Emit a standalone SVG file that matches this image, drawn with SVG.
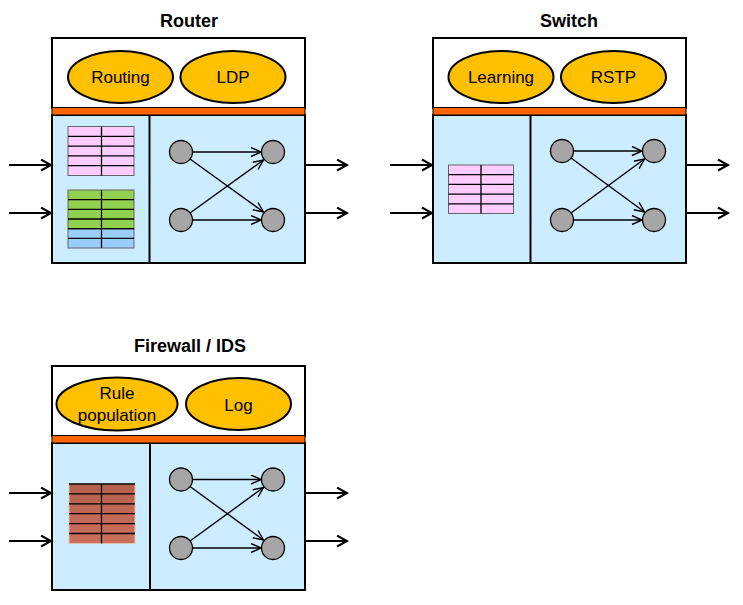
<svg xmlns="http://www.w3.org/2000/svg" width="743" height="605" viewBox="0 0 743 605">
<style>
.title{font-family:"Liberation Sans",Arial,sans-serif;font-weight:bold;font-size:18px;text-anchor:middle;fill:#000}
.lbl{font-family:"Liberation Sans",Arial,sans-serif;font-size:17px;text-anchor:middle;fill:#000}
.top{fill:#fff;stroke:#000;stroke-width:2}
.bar{fill:#FF6600;stroke:#000;stroke-width:1}
.low{fill:#CCECFF;stroke:#000;stroke-width:2}
.ell{fill:#FFC000;stroke:#000;stroke-width:2}
.dot{fill:#A6A6A6;stroke:#000;stroke-width:1.3}
.in{stroke:#000;stroke-width:1.4;fill:none;marker-end:url(#ah)}
.io{stroke:#000;stroke-width:2;fill:none;marker-end:url(#ah2)}
.grid{stroke:#000;stroke-width:1.3;fill:none}
.pink{fill:#FFCCFF}
.green{fill:#92D050}
.blue{fill:#99CCFF}
.tb{stroke:#666;stroke-width:1}
</style>
<defs>
<marker id="ah" markerUnits="userSpaceOnUse" markerWidth="14" markerHeight="12" refX="11" refY="5" orient="auto" viewBox="0 0 14 12">
<path d="M1,0.5 L11,5 L1,9.5" fill="none" stroke="#000" stroke-width="1.4"/>
</marker>
<marker id="ah2" markerUnits="userSpaceOnUse" markerWidth="14" markerHeight="14" refX="11" refY="6" orient="auto" viewBox="0 0 14 14">
<path d="M1,0.5 L11,6 L1,11.5" fill="none" stroke="#000" stroke-width="2"/>
</marker>
<linearGradient id="brick" x1="0" y1="0" x2="0" y2="1">
<stop offset="0" stop-color="#B3604D"/>
<stop offset="1" stop-color="#CA705D"/>
</linearGradient>
</defs>

<g id="connectors">
<!-- Router I/O -->
<line class="io" x1="9" y1="165" x2="51" y2="165"/>
<line class="io" x1="9" y1="213" x2="51" y2="213"/>
<line class="io" x1="306" y1="165" x2="347" y2="165"/>
<line class="io" x1="306" y1="213" x2="347" y2="213"/>
<!-- Switch I/O -->
<line class="io" x1="390" y1="165" x2="432" y2="165"/>
<line class="io" x1="390" y1="213" x2="432" y2="213"/>
<line class="io" x1="687" y1="165" x2="728" y2="165"/>
<line class="io" x1="687" y1="213" x2="728" y2="213"/>
<!-- Firewall I/O -->
<line class="io" x1="9" y1="493" x2="51" y2="493"/>
<line class="io" x1="9" y1="541" x2="51" y2="541"/>
<line class="io" x1="306" y1="493" x2="347" y2="493"/>
<line class="io" x1="306" y1="541" x2="347" y2="541"/>
</g>

<g id="router">
<text class="title" x="189" y="27">Router</text>
<rect class="top" x="52" y="38" width="253" height="70"/>
<rect class="low" x="52" y="115" width="253" height="148"/>
<rect class="bar" x="52" y="107.5" width="253" height="7.5"/>
<line class="grid" x1="149.5" y1="115" x2="149.5" y2="263" style="stroke-width:2"/>
<ellipse class="ell" cx="120.5" cy="77" rx="52.5" ry="26"/>
<text class="lbl" x="120.5" y="83">Routing</text>
<ellipse class="ell" cx="233" cy="77" rx="52.5" ry="26"/>
<text class="lbl" x="233" y="83">LDP</text>
<rect class="pink tb" x="68" y="126.5" width="66" height="49"/>
<rect class="green tb" x="68" y="190" width="66" height="39"/>
<rect class="blue tb" x="68" y="229" width="66" height="19"/>
<path class="grid" d="M101.5,126.5 V175.5 M68,136.3 H134 M68,146.1 H134 M68,155.9 H134 M68,165.7 H134 M101.5,190 V248 M68,199.7 H134 M68,209.4 H134 M68,219 H134 M68,228.7 H134 M68,238.4 H134"/>
<line class="in" x1="192.5" y1="152" x2="261" y2="152"/>
<line class="in" x1="192.5" y1="220" x2="261" y2="220"/>
<line class="in" x1="190" y1="159" x2="263.5" y2="212"/>
<line class="in" x1="190" y1="213" x2="263.5" y2="160"/>
<circle class="dot" cx="181" cy="152" r="11.5"/>
<circle class="dot" cx="273" cy="152" r="11.5"/>
<circle class="dot" cx="181" cy="220" r="11.5"/>
<circle class="dot" cx="273" cy="220" r="11.5"/>
</g>

<g id="switch">
<text class="title" x="569" y="27">Switch</text>
<rect class="top" x="433" y="38" width="253" height="70"/>
<rect class="low" x="433" y="115" width="253" height="148"/>
<rect class="bar" x="433" y="107.5" width="253" height="7.5"/>
<line class="grid" x1="530.5" y1="115" x2="530.5" y2="263" style="stroke-width:2"/>
<ellipse class="ell" cx="501" cy="77" rx="52.5" ry="26"/>
<text class="lbl" x="501" y="83">Learning</text>
<ellipse class="ell" cx="613.5" cy="77" rx="52.5" ry="26"/>
<text class="lbl" x="613.5" y="83">RSTP</text>
<rect class="pink tb" x="448.5" y="165" width="65" height="48.5"/>
<path class="grid" d="M481,165 V213.5 M448.5,174.7 H513.5 M448.5,184.4 H513.5 M448.5,194.1 H513.5 M448.5,203.8 H513.5"/>
<line class="in" x1="573.5" y1="151" x2="642" y2="151"/>
<line class="in" x1="573.5" y1="220" x2="642" y2="220"/>
<line class="in" x1="571" y1="158" x2="644.5" y2="212"/>
<line class="in" x1="571" y1="213" x2="644.5" y2="159"/>
<circle class="dot" cx="562" cy="151" r="11.5"/>
<circle class="dot" cx="654" cy="151" r="11.5"/>
<circle class="dot" cx="562" cy="220" r="11.5"/>
<circle class="dot" cx="654" cy="220" r="11.5"/>
</g>

<g id="firewall">
<text class="title" x="190" y="352">Firewall / IDS</text>
<rect class="top" x="52" y="366" width="253" height="70"/>
<rect class="low" x="52" y="443" width="253" height="147"/>
<rect class="bar" x="52" y="435.5" width="253" height="7.5"/>
<line class="grid" x1="150" y1="443" x2="150" y2="590" style="stroke-width:2"/>
<ellipse class="ell" cx="117" cy="404" rx="60.5" ry="26.5"/>
<text class="lbl" x="117" y="398.5">Rule</text>
<text class="lbl" x="117" y="421">population</text>
<ellipse class="ell" cx="238.5" cy="404" rx="52.5" ry="26"/>
<text class="lbl" x="238.5" y="411">Log</text>
<rect x="69" y="484" width="66" height="59.5" fill="url(#brick)" stroke="#E8C4A8" stroke-width="1"/>
<path class="grid" d="M101.5,484 V543.5 M69,484 H135 M69,493.9 H135 M69,503.8 H135 M69,513.7 H135 M69,523.6 H135 M69,533.5 H135"/>
<line class="in" x1="192.5" y1="479.5" x2="261" y2="479.5"/>
<line class="in" x1="192.5" y1="548" x2="261" y2="548"/>
<line class="in" x1="190" y1="486.5" x2="263.5" y2="540"/>
<line class="in" x1="190" y1="541" x2="263.5" y2="487.5"/>
<circle class="dot" cx="181" cy="479.5" r="11.5"/>
<circle class="dot" cx="273" cy="479.5" r="11.5"/>
<circle class="dot" cx="181" cy="548" r="11.5"/>
<circle class="dot" cx="273" cy="548" r="11.5"/>
</g>
</svg>
